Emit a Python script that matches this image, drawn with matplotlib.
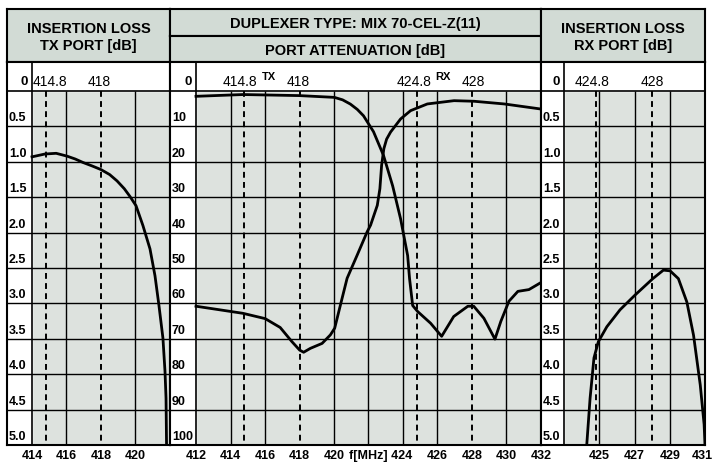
import matplotlib.pyplot as plt
from matplotlib.transforms import blended_transform_factory

plt.rcParams['font.family'] = ['Liberation Sans', 'DejaVu Sans']

# TX port insertion loss (left panel), MHz / dB
tx_loss_freq = [414.0, 414.75, 415.4, 416.03, 416.5, 416.96, 417.5, 418.0, 418.5, 418.93,
                419.35, 419.68, 420.03, 420.43, 420.84, 421.13, 421.36, 421.59, 421.71,
                421.77, 421.8]
tx_loss_db = [0.93, 0.89, 0.88, 0.92, 0.96, 1.01, 1.06, 1.11, 1.18, 1.27,
              1.38, 1.49, 1.62, 1.90, 2.23, 2.61, 3.03, 3.49, 3.96,
              4.34, 5.0]

# port attenuation (middle panel), MHz / dB
tx_att_freq = [412.0, 414.73, 417.99, 420.02, 420.5, 420.95, 421.35, 421.71, 422.29, 422.87,
               423.40, 423.86, 424.27, 424.38, 424.56, 424.85, 425.6, 426.24, 426.94,
               427.76, 428.1, 428.69, 429.33, 429.67, 430.14, 430.66, 431.3, 432.0]
tx_att_db = [1.5, 1.0, 1.3, 1.8, 2.5, 3.7, 5.2, 7.0, 11.5, 18.2,
             26.8, 36.1, 46.5, 53.0, 60.6, 62.3, 65.6, 69.3, 63.7,
             60.8, 60.8, 64.2, 70.1, 65.1, 59.4, 56.6, 56.1, 54.1]

rx_att_freq = [412.0, 414.72, 416.01, 416.88, 417.56, 418.01, 418.24, 418.63, 419.31,
               419.79, 420.04, 420.37, 420.76, 421.34, 421.92, 422.12, 422.51, 422.66,
               422.76, 422.89, 423.05, 423.28, 423.86, 424.44, 425.41, 426.96, 428.12,
               429.87, 431.96]
rx_att_db = [60.8, 62.8, 64.3, 66.8, 70.8, 73.2, 73.8, 72.7, 71.3,
             68.9, 67.0, 60.5, 52.9, 46.4, 39.8, 37.9, 32.3, 27.6,
             21.0, 16.3, 13.6, 11.6, 7.9, 5.55, 3.66, 2.73, 2.9,
             3.66, 5.07]

# RX port insertion loss (right panel), MHz / dB
rx_loss_freq = [424.29, 424.48, 424.70, 424.95, 425.43, 426.18, 427.04, 428.04, 428.64,
                429.02, 429.49, 429.97, 430.35, 430.73, 430.95, 431.0]
rx_loss_db = [5.0, 4.34, 3.77, 3.54, 3.33, 3.09, 2.88, 2.65, 2.53,
              2.54, 2.65, 2.98, 3.45, 4.15, 4.71, 5.0]

tx_markers = [414.8, 418.0]
rx_markers = [424.8, 428.0]
loss_ticks = [0.5, 1.0, 1.5, 2.0, 2.5, 3.0, 3.5, 4.0, 4.5, 5.0]
att_ticks = [10, 20, 30, 40, 50, 60, 70, 80, 90, 100]

W, H = 714, 464
BG = '#dde2de'
HEAD = '#d2dbd5'
TOP, PLOT_TOP, BOTTOM = 63, 92, 446


def px_axes(fig, x0, y0, x1, y1):
    return fig.add_axes([x0 / W, 1 - y1 / H, (x1 - x0) / W, (y1 - y0) / H])


def header(fig, box, text):
    ax = px_axes(fig, *box)
    ax.set_facecolor(HEAD)
    ax.set_xticks([])
    ax.set_yticks([])
    for s in ax.spines.values():
        s.set_linewidth(1.5)
    ax.text(0.5, 0.48, text, ha='center', va='center', fontsize=10.5,
            fontweight='bold', linespacing=1.2, transform=ax.transAxes)


def panel(fig, x0, x1, col_px, f0, f1, ymax, yticks, ylabels, grid_x, dashed_x,
          top_labels, xticks, xticklabels):
    ax = px_axes(fig, x0, TOP, x1, BOTTOM)
    col = col_px / (x1 - x0)
    xl = (f0 - col * f1) / (1 - col)
    top = -ymax * (PLOT_TOP - TOP) / (BOTTOM - PLOT_TOP)
    ax.set_xlim(xl, f1)
    ax.set_ylim(ymax, top)
    ax.set_facecolor(BG)
    ax.axvspan(xl, f0, color='white', zorder=0.5)
    ax.axhspan(top, 0, color='white', zorder=0.5)
    for s in ax.spines.values():
        s.set_linewidth(1.5)

    for v in yticks[:-1]:
        ax.axhline(v, color='black', lw=1.0, zorder=1)
    ax.axhline(0, color='black', lw=1.2, zorder=1)
    ax.axvline(f0, color='black', lw=1.2, zorder=1)
    ax.vlines(grid_x, 0, ymax, color='black', lw=1.0, zorder=1)
    ax.vlines(dashed_x, 0, ymax, color='black', lw=1.4,
              linestyles=(0, (3, 2.2)), zorder=1)

    # y labels in the white column
    tr = blended_transform_factory(ax.transAxes, ax.transData)
    for v, lab in zip(yticks, ylabels):
        ax.annotate(lab, xy=(0, v), xycoords=tr, xytext=(1.3, 2.2),
                    textcoords='offset points', ha='left', va='bottom',
                    fontsize=9, fontweight='bold')
    ax.annotate('0', xy=(f0, 0), xytext=(-3, 7.5), textcoords='offset points',
                ha='right', va='center', fontsize=9.5, fontweight='bold')
    for f, lab, ha in top_labels:
        ax.annotate(lab, xy=(f, 0), xytext=(0, 7.5), textcoords='offset points',
                    ha=ha, va='center', fontsize=10)

    ax.set_xticks(xticks)
    ax.set_xticklabels(xticklabels, fontsize=9, fontweight='bold')
    ax.set_yticks([])
    ax.tick_params(axis='x', length=0, pad=3)
    return ax


fig = plt.figure(figsize=(W / 100, H / 100), dpi=100)

header(fig, (7, 10, 170, 63), 'INSERTION LOSS\nTX PORT [dB]')
header(fig, (170, 10, 541, 37), 'DUPLEXER TYPE: MIX 70-CEL-Z(11)')
header(fig, (170, 37, 541, 63), 'PORT ATTENUATION [dB]')
header(fig, (541, 10, 705, 63), 'INSERTION LOSS\nRX PORT [dB]')

# left: TX insertion loss
ax1 = panel(fig, 7, 170, 25, 414, 422, 5.0, loss_ticks,
            [f'{v:.1f}' for v in loss_ticks], [416, 420], tx_markers,
            [(414.05, '414.8', 'left'), (417.9, '418', 'center')],
            [414, 416, 418, 420], ['414', '416', '418', '420'])
ax1.plot(tx_loss_freq, tx_loss_db, color='black', lw=2, zorder=3)

# middle: port attenuation
ax2 = panel(fig, 170, 541, 26, 412, 432, 100, att_ticks,
            [str(v) for v in att_ticks], [414, 416, 420, 422, 424, 426, 430],
            tx_markers + rx_markers,
            [(414.55, '414.8', 'center'), (417.95, '418', 'center'),
             (424.65, '424.8', 'center'), (428.05, '428', 'center')],
            [412, 414, 416, 418, 420, 422.7, 426, 428, 430, 432],
            ['412', '414', '416', '418', '420', 'f[MHz] 424', '426', '428', '430', '432'])
ax2.plot(tx_att_freq, tx_att_db, color='black', lw=2, zorder=3)
ax2.plot(rx_att_freq, rx_att_db, color='black', lw=2, zorder=3)
ax2.annotate('TX', xy=(414.55, 0), xytext=(21, 10.5), textcoords='offset points',
             ha='center', va='center', fontsize=8, fontweight='bold')
ax2.annotate('RX', xy=(424.65, 0), xytext=(21, 10.5), textcoords='offset points',
             ha='center', va='center', fontsize=8, fontweight='bold')

# right: RX insertion loss
ax3 = panel(fig, 541, 705, 23, 423, 431, 5.0, loss_ticks,
            [f'{v:.1f}' for v in loss_ticks], [425, 427, 429], rx_markers,
            [(424.6, '424.8', 'center'), (428.0, '428', 'center')],
            [425, 427, 429, 430.85], ['425', '427', '429', '431'])
ax3.plot(rx_loss_freq, rx_loss_db, color='black', lw=2, zorder=3)

fig.savefig('out.png', dpi=100)
